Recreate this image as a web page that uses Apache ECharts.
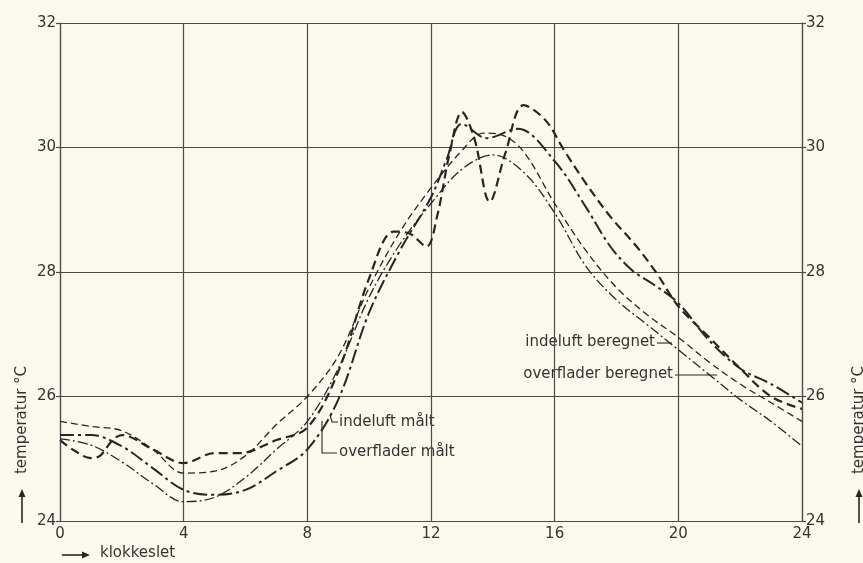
<!DOCTYPE html>
<html>
<head>
<meta charset="utf-8">
<script src="https://cdn.jsdelivr.net/npm/echarts@6/dist/echarts.min.js"></script>
<style>
  html, body { margin: 0; padding: 0; background: #fbf9ee; }
  #chart { width: 863px; height: 563px; }
</style>
</head>
<body>
<div id="chart"></div>
<script>
// Tick labels
const xTicks = [0, 4, 8, 12, 16, 20, 24];
const yTicks = [24, 26, 28, 30, 32];

// indeluft målt (measured indoor air)
const hoursAirMeas = [0, 0.5, 1, 1.3, 1.7, 2, 3, 4, 5, 5.8, 7, 8, 9, 10, 10.8, 11.3, 11.85, 12.2, 12.6, 13, 13.4, 13.9, 14.4, 15, 15.7, 16.3, 17, 17.8, 18.65, 19.3, 20, 21, 22, 23, 24];
const tempAirMeas = [25.3, 25.12, 25.01, 25.05, 25.3, 25.38, 25.15, 24.93, 25.09, 25.09, 25.3, 25.5, 26.4, 27.9, 28.65, 28.62, 28.41, 28.9, 29.9, 30.57, 30.15, 29.13, 29.9, 30.68, 30.44, 29.96, 29.43, 28.89, 28.41, 27.98, 27.45, 26.95, 26.45, 26.0, 25.8];

// overflader målt (measured surfaces)
const hoursSurfMeas = [0, 1, 2, 3, 4, 5, 6, 7, 8, 9, 10, 11, 12, 12.5, 13, 13.8, 14.8, 16, 17, 17.8, 18.5, 19.2, 20, 21, 22, 23, 24];
const tempSurfMeas = [25.38, 25.38, 25.2, 24.85, 24.5, 24.42, 24.5, 24.8, 25.15, 25.95, 27.35, 28.35, 29.2, 29.8, 30.38, 30.15, 30.3, 29.78, 29.05, 28.41, 28.03, 27.8, 27.5, 26.9, 26.45, 26.2, 25.9];

// indeluft beregnet (calculated indoor air)
const hoursAirCalc = [0, 1, 2, 3, 4, 5, 6, 7, 8, 9, 10, 11, 12, 13, 13.7, 14.3, 15, 16, 17, 18, 19, 20, 21, 22, 23, 24];
const tempAirCalc = [25.6, 25.52, 25.45, 25.15, 24.77, 24.8, 25.05, 25.55, 26.0, 26.65, 27.75, 28.65, 29.35, 29.95, 30.23, 30.2, 29.93, 29.1, 28.35, 27.75, 27.31, 26.95, 26.55, 26.2, 25.9, 25.6];

// overflader beregnet (calculated surfaces)
const hoursSurfCalc = [0, 1, 2, 3, 4, 5, 6, 7, 8, 9, 10, 11, 12, 13, 14, 15, 16, 17, 18, 19, 20, 21, 22, 23, 24];
const tempSurfCalc = [25.32, 25.22, 24.95, 24.6, 24.31, 24.38, 24.7, 25.15, 25.6, 26.45, 27.6, 28.45, 29.1, 29.65, 29.88, 29.6, 28.95, 28.1, 27.55, 27.15, 26.75, 26.35, 25.95, 25.6, 25.2];

const zip = (xs, ys) => xs.map((x, i) => [x, ys[i]]);

const INK = '#262626';
const GRID = '#4a4a4a';
const FONT = 'DejaVu Sans';

function curve(name, xs, ys, width, dash) {
  return {
    name: name,
    type: 'line',
    data: zip(xs, ys),
    smooth: 0.35,
    showSymbol: false,
    symbol: 'none',
    lineStyle: { color: INK, width: width, type: dash, cap: 'butt' },
    z: 5
  };
}

const yAxisBase = {
  type: 'value', min: 24, max: 32, interval: 2,
  axisLine: { show: true, lineStyle: { color: GRID, width: 1.2 } },
  axisTick: { show: true, length: 4, lineStyle: { color: GRID, width: 1.2 } },
  splitLine: { show: true, lineStyle: { color: GRID, width: 1.2 } },
  axisLabel: {
    color: '#333', fontFamily: FONT, fontSize: 15, margin: 4,
    formatter: v => (yTicks.indexOf(v) >= 0 ? String(v) : '')
  }
};

const chart = echarts.init(document.getElementById('chart'), null, { renderer: 'canvas' });

// upward arrow placed under a rotated axis name
function arrowUp(x, yBottom, yTop) {
  return [
    { type: 'line', shape: { x1: x, y1: yBottom, x2: x, y2: yTop + 6 }, style: { stroke: INK, lineWidth: 1.6 } },
    { type: 'polygon', shape: { points: [[x - 3.5, yTop + 8], [x + 3.5, yTop + 8], [x, yTop]] }, style: { fill: INK } }
  ];
}

chart.setOption({
  backgroundColor: '#fbf9ee',
  animation: false,
  grid: { left: 60, right: 61, top: 23, bottom: 42, containLabel: false },
  xAxis: {
    type: 'value', min: 0, max: 24, interval: 4,
    axisLine: { show: true, onZero: false, lineStyle: { color: GRID, width: 1.2 } },
    axisTick: { show: false },
    splitLine: { show: true, lineStyle: { color: GRID, width: 1.2 } },
    axisLabel: {
      color: '#333', fontFamily: FONT, fontSize: 15, margin: 6,
      formatter: v => (xTicks.indexOf(v) >= 0 ? String(v) : '')
    }
  },
  yAxis: [
    Object.assign({}, yAxisBase, { position: 'left' }),
    Object.assign({}, yAxisBase, { position: 'right', splitLine: { show: false } })
  ],
  series: [
    curve('indeluft målt', hoursAirMeas, tempAirMeas, 2.2, [9, 5]),
    curve('overflader målt', hoursSurfMeas, tempSurfMeas, 2.0, [14, 4, 3, 4]),
    curve('indeluft beregnet', hoursAirCalc, tempAirCalc, 1.3, [7, 4]),
    curve('overflader beregnet', hoursSurfCalc, tempSurfCalc, 1.3, [10, 3, 2, 3])
  ],
  graphic: [
    // curve labels with leaders
    { type: 'text', left: 339, top: 415, style: { text: 'indeluft målt', font: '15px "DejaVu Sans"', fill: '#333' } },
    { type: 'polyline', shape: { points: [[330, 415], [332, 422], [338, 422]] }, style: { stroke: INK, lineWidth: 1.1, fill: null } },
    { type: 'text', left: 339, top: 445, style: { text: 'overflader målt', font: '15px "DejaVu Sans"', fill: '#333' } },
    { type: 'polyline', shape: { points: [[322, 421], [322, 453], [337, 453]] }, style: { stroke: INK, lineWidth: 1.1, fill: null } },
    { type: 'text', right: 863 - 655, top: 335, style: { text: 'indeluft beregnet', font: '15px "DejaVu Sans"', fill: '#333' } },
    { type: 'line', shape: { x1: 657, y1: 343, x2: 672, y2: 343 }, style: { stroke: INK, lineWidth: 1.1 } },
    { type: 'text', right: 863 - 673, top: 367, style: { text: 'overflader beregnet', font: '15px "DejaVu Sans"', fill: '#333' } },
    { type: 'line', shape: { x1: 675, y1: 375, x2: 717, y2: 375 }, style: { stroke: INK, lineWidth: 1.1 } },

    // axis names
    { type: 'text', x: 22, y: 420, rotation: Math.PI / 2,
      style: { text: 'temperatur °C', font: '15px "DejaVu Sans"', fill: '#333', textAlign: 'center', textVerticalAlign: 'middle' } },
    ...arrowUp(22, 523, 489),
    { type: 'text', x: 859, y: 420, rotation: Math.PI / 2,
      style: { text: 'temperatur °C', font: '15px "DejaVu Sans"', fill: '#333', textAlign: 'center', textVerticalAlign: 'middle' } },
    ...arrowUp(859, 523, 489),
    { type: 'line', shape: { x1: 62, y1: 555, x2: 84, y2: 555 }, style: { stroke: INK, lineWidth: 1.6 } },
    { type: 'polygon', shape: { points: [[82, 551.5], [82, 558.5], [90, 555]] }, style: { fill: INK } },
    { type: 'text', left: 100, top: 546, style: { text: 'klokkeslet', font: '15px "DejaVu Sans"', fill: '#333' } }
  ]
});
</script>
</body>
</html>
